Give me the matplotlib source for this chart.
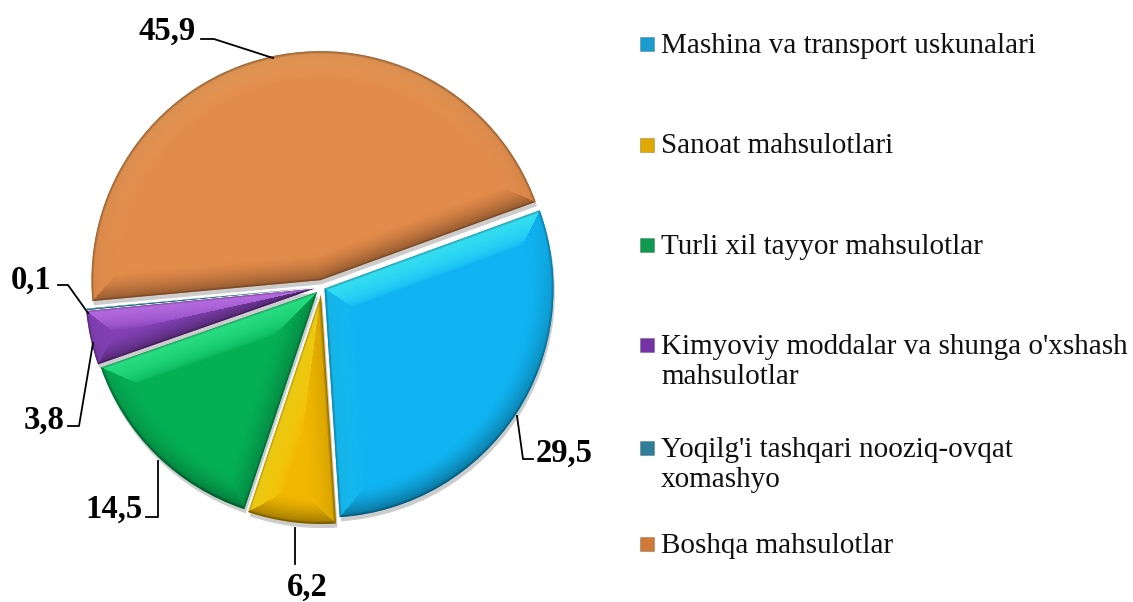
import numpy as np
import matplotlib
matplotlib.use("Agg")
import matplotlib.pyplot as plt
import matplotlib.patheffects as pe
from matplotlib.patches import Rectangle

# data
categories = ["Mashina va transport uskunalari", "Sanoat mahsulotlari", "Turli xil tayyor mahsulotlar",
              "Kimyoviy moddalar va shunga o'xshash\nmahsulotlar", "Yoqilg'i tashqari nooziq-ovqat\nxomashyo",
              "Boshqa mahsulotlar"]
values = [29.5, 6.2, 14.5, 3.8, 0.1, 45.9]
value_labels = ["29,5", "6,2", "14,5", "3,8", "0,1", "45,9"]

colors = ["#10b4f2", "#f2b800", "#05b055", "#8240b4", "#31859c", "#e38b4a"]
legend_colors = ["#1a9ccf", "#e0a800", "#0f9a50", "#7434a4", "#2f7f9a", "#cf7a38"]
# pie() takes explode in data units, here pixels
explode = [3, 8, 7, 8, 7, 7]

W, H = 1133, 602
plt.rcParams["font.family"] = ["Liberation Serif", "DejaVu Serif"]


def Y(py):
    # picture rows run downward, the axes run upward
    return H - py


def bevel(ax, wedge, base):
    # shade each wedge as a bevel lit from above
    cx, cy = wedge.center
    r = wedge.r
    xs = np.arange(cx - r - 2, cx + r + 2, 1.0)
    ys = np.arange(cy + r + 2, cy - r - 2, -1.0)
    gx, gy = np.meshgrid(xs - cx, ys - cy)
    rho = np.hypot(gx, gy) + 1e-6

    t1, t2 = np.radians(wedge.theta1), np.radians(wedge.theta2)
    n1 = np.array([np.sin(t1), -np.cos(t1)])
    n2 = np.array([-np.sin(t2), np.cos(t2)])
    d_arc = r - rho
    d1 = -(gx * n1[0] + gy * n1[1])
    d2 = -(gx * n2[0] + gy * n2[1])
    stack = np.stack([d_arc, d1, d2])
    which = stack.argmin(axis=0)
    dist = stack.min(axis=0)

    nx = np.choose(which, [gx / rho, np.full_like(gx, n1[0]), np.full_like(gx, n2[0])])
    ny = np.choose(which, [gy / rho, np.full_like(gx, n1[1]), np.full_like(gx, n2[1])])
    light = np.array([-0.25, 0.97])
    shade = nx * light[0] + ny * light[1]

    width = min(27, max(dist.max() * 0.9, 1))
    t = np.clip(1 - dist / width, 0, 1)
    rgb = np.array(matplotlib.colors.to_rgb(base))
    bright = np.clip(rgb * 1.25 + 0.2, 0, 1)
    img = np.ones(gx.shape + (3,)) * rgb

    # the arc catches less light than the straight edges
    arc_gain = np.where(which == 0, 0.25, 1.0)
    up = np.clip(shade, 0, 1) * t ** 0.6 * 0.75 * arc_gain
    down = (np.clip(-shade, 0, 1) * 0.5 + 0.1) * t ** 1.5 * 0.6
    rim = np.clip((t - 0.9) / 0.1, 0, 1) * 0.3
    for c in range(3):
        img[..., c] = img[..., c] * (1 - up) + bright[c] * up
        img[..., c] = img[..., c] * (1 - down) * (1 - rim)
    im = ax.imshow(img, extent=(xs[0] - 0.5, xs[-1] + 0.5, ys[-1] - 0.5, ys[0] + 0.5),
                   aspect="auto", interpolation="bilinear", zorder=2)
    im.set_clip_path(wedge)


fig = plt.figure(figsize=(W / 100, H / 100), dpi=100)
ax = fig.add_axes([0, 0, 1, 1])

wedges, _ = ax.pie(values, explode=explode, colors=colors, startangle=20, counterclock=False,
                   center=(322, Y(287)), radius=229)
for w, col in zip(wedges, colors):
    w.set_zorder(1)
    w.set_path_effects([pe.SimplePatchShadow(offset=(1, -3), shadow_rgbFace="#808080", alpha=0.4), pe.Normal()])
    bevel(ax, w, col)

ax.set_xlim(0, W)
ax.set_ylim(0, H)
ax.set_aspect("equal")
ax.axis("off")

# data labels and their leader lines
label_pos = [(564, 453), (307, 587), (114, 509), (44, 420), (31, 280), (167, 31)]
leaders = [
    [(517, 416), (523, 459), (533, 459)],
    [(295, 528), (295, 564)],
    [(158, 461), (158, 517), (146, 517)],
    [(93, 343), (79, 426), (68, 426)],
    [(88, 313), (68, 285), (58, 285)],
    [(273, 58), (214, 39), (201, 39)],
]
for txt, (x, y) in zip(value_labels, label_pos):
    ax.text(x, Y(y), txt, fontsize=23.5, fontweight="bold", ha="center", va="center", color="black", zorder=5)
for line in leaders:
    ax.plot([p[0] for p in line], [Y(p[1]) for p in line], color="black", lw=1.3, zorder=4)

# legend
legend_rows = [44, 145, 245, 345, 448, 544]
text_rows = [46, 146, 247, 362, 465, 546]
for name, col, ry, ty in zip(categories, legend_colors, legend_rows, text_rows):
    ax.add_patch(Rectangle((640, Y(ry + 7)), 14, 14, facecolor=col, edgecolor="#00000030", lw=0.8, zorder=3))
    ax.text(661, Y(ty), name, fontsize=21, ha="left", va="center", color="#111111",
            linespacing=1.22, zorder=5)

fig.savefig("out.png", dpi=100)
